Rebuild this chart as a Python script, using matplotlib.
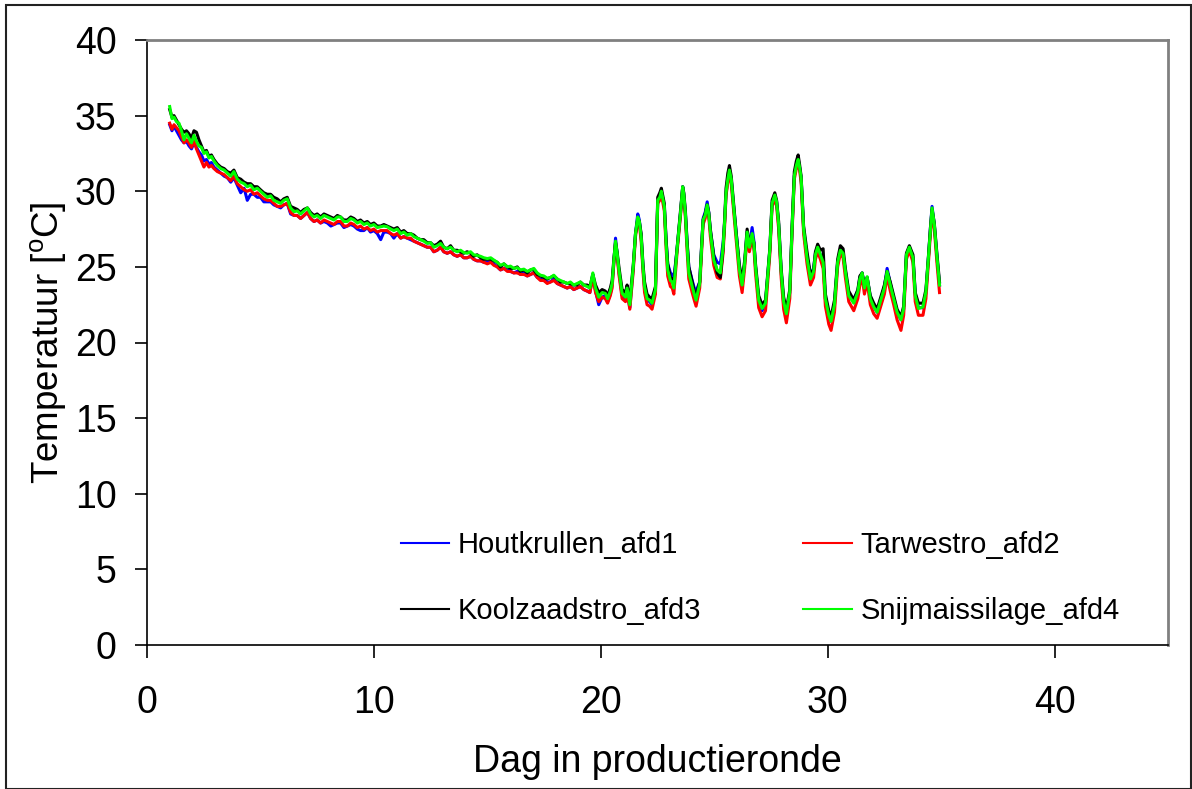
import matplotlib
matplotlib.use("Agg")
import matplotlib.pyplot as plt
from matplotlib.patches import Rectangle

plt.rcParams['font.family'] = ['Liberation Sans', 'DejaVu Sans']

# ---- data ----
days = [
    1.00, 1.10, 1.19, 1.30, 1.41, 1.52, 1.63, 1.74, 1.85, 1.96,
    2.07, 2.18, 2.29, 2.40, 2.51, 2.62, 2.73, 2.84, 2.95, 3.10,
    3.25, 3.40, 3.54, 3.69, 3.83, 3.98, 4.13, 4.28, 4.42, 4.57,
    4.71, 4.86, 5.00, 5.15, 5.30, 5.45, 5.59, 5.74, 5.89, 6.03,
    6.18, 6.33, 6.48, 6.62, 6.77, 6.92, 7.07, 7.21, 7.36, 7.50,
    7.65, 7.80, 7.95, 8.10, 8.24, 8.39, 8.53, 8.68, 8.83, 8.98,
    9.12, 9.27, 9.41, 9.56, 9.71, 9.85, 10.00, 10.15, 10.30, 10.44,
    10.59, 10.74, 10.88, 11.03, 11.18, 11.32, 11.47, 11.62, 11.76, 11.91,
    12.06, 12.20, 12.35, 12.50, 12.64, 12.79, 12.94, 13.08, 13.23, 13.38,
    13.52, 13.67, 13.82, 13.96, 14.11, 14.26, 14.40, 14.55, 14.70, 14.85,
    15.00, 15.15, 15.29, 15.44, 15.58, 15.73, 15.88, 16.02, 16.17, 16.32,
    16.46, 16.61, 16.76, 16.90, 17.05, 17.20, 17.34, 17.49, 17.64, 17.78,
    17.93, 18.08, 18.22, 18.37, 18.52, 18.66, 18.81, 18.95, 19.10, 19.25,
    19.40, 19.52, 19.65, 19.77, 19.91, 20.06, 20.20, 20.30, 20.42, 20.50,
    20.58, 20.65, 20.72, 20.80, 20.94, 21.09, 21.16, 21.28, 21.43, 21.53,
    21.63, 21.70, 21.78, 21.86, 21.93, 22.04, 22.15, 22.26, 22.41, 22.51,
    22.60, 22.67, 22.80, 22.88, 22.95, 23.07, 23.15, 23.22, 23.30, 23.37,
    23.51, 23.61, 23.66, 23.73, 23.80, 23.88, 24.03, 24.12, 24.20, 24.36,
    24.45, 24.51, 24.60, 24.69, 24.76, 24.83, 24.98, 25.13, 25.27, 25.39,
    25.46, 25.52, 25.60, 25.67, 25.75, 25.83, 25.96, 26.11, 26.23, 26.34,
    26.45, 26.55, 26.67, 26.75, 26.82, 26.96, 27.11, 27.26, 27.45, 27.55,
    27.67, 27.75, 27.84, 27.95, 28.06, 28.18, 28.33, 28.43, 28.53, 28.62,
    28.70, 28.76, 28.83, 28.94, 29.09, 29.24, 29.38, 29.46, 29.56, 29.68,
    29.80, 29.90, 30.05, 30.15, 30.30, 30.44, 30.56, 30.68, 30.78, 30.93,
    31.15, 31.33, 31.42, 31.52, 31.62, 31.74, 31.88, 32.03, 32.18, 32.32,
    32.50, 32.62, 32.76, 32.91, 33.06, 33.23, 33.35, 33.47, 33.60, 33.76,
    33.86, 34.00, 34.20, 34.33, 34.45, 34.53, 34.60, 34.70, 34.82, 34.93,
]

houtkrullen_afd1 = [
    34.4, 34.0, 34.3, 34.0, 33.7, 33.4, 33.2, 33.3, 33.0, 32.8,
    33.2, 32.9, 32.6, 32.4, 32.0, 32.1, 31.8, 31.9, 31.6, 31.4,
    31.2, 31.0, 30.9, 30.6, 30.9, 30.4, 29.9, 30.2, 29.4, 29.8,
    29.8, 29.6, 29.6, 29.3, 29.3, 29.3, 29.1, 29.0, 28.9, 29.1,
    29.2, 28.5, 28.4, 28.4, 28.2, 28.4, 28.6, 28.2, 28.0, 28.1,
    27.9, 28.0, 27.9, 27.7, 27.8, 27.9, 27.9, 27.6, 27.7, 27.8,
    27.7, 27.5, 27.4, 27.4, 27.6, 27.3, 27.4, 27.2, 26.8, 27.3,
    27.3, 27.2, 26.9, 27.2, 26.9, 27.0, 26.9, 26.8, 26.7, 26.6,
    26.5, 26.4, 26.3, 26.3, 26.0, 26.1, 26.3, 26.0, 25.9, 26.0,
    25.8, 25.7, 25.8, 25.6, 25.6, 25.7, 25.5, 25.4, 25.4, 25.3,
    25.3, 25.3, 25.2, 25.0, 24.8, 24.9, 24.8, 24.7, 24.6, 24.7,
    24.5, 24.6, 24.4, 24.5, 24.6, 24.3, 24.2, 24.1, 24.0, 24.0,
    24.2, 23.9, 23.8, 23.7, 23.6, 23.7, 23.5, 23.6, 23.7, 23.5,
    23.4, 23.3, 24.5, 23.4, 22.5, 23.0, 23.1, 22.7, 23.2, 23.8,
    25.4, 26.9, 25.9, 24.7, 23.1, 22.9, 23.4, 22.3, 24.9, 27.2,
    28.5, 28.1, 27.0, 25.0, 23.6, 22.8, 22.7, 22.5, 23.4, 29.3,
    29.6, 30.0, 29.0, 26.7, 25.2, 24.6, 24.5, 24.2, 25.3, 26.3,
    28.5, 30.3, 29.8, 28.5, 26.7, 25.0, 24.1, 23.6, 23.4, 24.0,
    26.6, 28.2, 28.6, 29.3, 28.6, 27.4, 25.8, 25.3, 25.2, 26.6,
    28.0, 29.8, 30.8, 31.3, 30.8, 29.4, 27.4, 25.0, 23.8, 25.2,
    27.3, 26.3, 27.6, 26.7, 25.0, 22.8, 22.1, 22.6, 26.1, 29.2,
    29.7, 29.3, 27.8, 24.7, 22.6, 21.8, 23.3, 27.4, 31.0, 31.7,
    32.1, 31.6, 30.9, 27.5, 25.6, 24.5, 24.9, 25.9, 26.3, 25.8,
    25.3, 22.9, 21.8, 21.4, 22.5, 25.3, 26.1, 25.8, 24.7, 23.1,
    22.9, 23.4, 24.3, 24.6, 23.7, 24.3, 23.0, 22.4, 22.0, 22.7,
    23.7, 24.9, 23.9, 22.9, 22.0, 21.5, 22.2, 25.8, 26.3, 25.6,
    23.2, 22.3, 22.3, 23.3, 25.8, 27.6, 29.0, 27.8, 25.6, 23.8,
]

tarwestro_afd2 = [
    34.5, 34.1, 34.4, 34.2, 34.0, 33.6, 33.2, 33.4, 33.2, 32.9,
    33.3, 32.8, 32.4, 32.0, 31.6, 31.9, 31.6, 31.7, 31.5, 31.3,
    31.2, 31.1, 30.9, 30.7, 31.0, 30.5, 30.3, 30.1, 30.0, 30.1,
    29.8, 29.9, 29.7, 29.5, 29.4, 29.4, 29.2, 29.0, 29.0, 29.1,
    29.2, 28.6, 28.4, 28.4, 28.2, 28.4, 28.6, 28.2, 28.0, 28.1,
    27.9, 28.1, 28.0, 27.9, 27.8, 28.0, 28.0, 27.7, 27.7, 27.9,
    27.8, 27.6, 27.7, 27.5, 27.6, 27.4, 27.5, 27.3, 27.4, 27.4,
    27.4, 27.2, 27.1, 27.2, 26.9, 27.0, 26.9, 26.9, 26.7, 26.6,
    26.5, 26.4, 26.3, 26.3, 26.0, 26.1, 26.3, 26.0, 25.9, 26.0,
    25.8, 25.7, 25.8, 25.6, 25.6, 25.7, 25.5, 25.4, 25.4, 25.3,
    25.2, 25.3, 25.1, 25.0, 24.8, 24.9, 24.7, 24.7, 24.6, 24.6,
    24.5, 24.5, 24.4, 24.5, 24.6, 24.3, 24.1, 24.1, 23.9, 24.0,
    24.1, 23.9, 23.8, 23.7, 23.6, 23.7, 23.5, 23.6, 23.7, 23.5,
    23.4, 23.3, 24.3, 23.3, 22.7, 23.0, 22.9, 22.6, 23.1, 23.6,
    25.3, 26.6, 25.7, 24.5, 22.9, 22.7, 23.3, 22.2, 24.7, 27.0,
    28.1, 27.8, 26.7, 24.7, 23.3, 22.5, 22.4, 22.2, 23.2, 29.2,
    29.4, 29.8, 28.7, 26.2, 24.4, 23.7, 23.6, 23.2, 24.7, 26.1,
    28.3, 30.1, 29.6, 28.2, 26.2, 24.2, 23.3, 22.8, 22.4, 23.6,
    26.2, 27.8, 28.2, 28.9, 28.3, 27.0, 25.1, 24.3, 24.2, 25.9,
    27.7, 29.7, 30.6, 31.2, 30.5, 29.1, 26.9, 24.4, 23.3, 24.9,
    27.0, 26.0, 26.9, 26.2, 24.6, 22.3, 21.7, 22.1, 25.8, 29.0,
    29.5, 29.0, 27.5, 24.3, 22.2, 21.3, 22.9, 27.2, 30.8, 31.5,
    31.9, 31.4, 30.6, 27.2, 25.2, 23.8, 24.3, 25.5, 26.0, 25.5,
    24.9, 22.4, 21.2, 20.8, 22.0, 25.0, 25.9, 25.6, 24.3, 22.7,
    22.1, 22.9, 23.8, 24.3, 23.2, 24.0, 22.5, 21.9, 21.6, 22.3,
    23.2, 24.4, 23.4, 22.5, 21.5, 20.8, 21.8, 25.5, 26.1, 25.3,
    22.7, 21.8, 21.8, 22.9, 25.5, 27.2, 28.6, 27.5, 25.2, 23.3,
]

koolzaadstro_afd3 = [
    35.4, 34.9, 35.0, 34.7, 34.4, 34.1, 33.9, 34.0, 33.8, 33.5,
    34.0, 33.9, 33.4, 33.0, 32.6, 32.7, 32.3, 32.4, 32.1, 31.8,
    31.6, 31.5, 31.3, 31.2, 31.4, 30.9, 30.8, 30.6, 30.5, 30.5,
    30.3, 30.3, 30.1, 29.9, 29.8, 29.8, 29.6, 29.5, 29.3, 29.5,
    29.6, 29.0, 28.9, 28.8, 28.6, 28.8, 28.9, 28.6, 28.4, 28.5,
    28.3, 28.5, 28.4, 28.3, 28.2, 28.4, 28.3, 28.1, 28.1, 28.3,
    28.2, 28.0, 28.1, 27.9, 28.0, 27.8, 27.9, 27.7, 27.7, 27.8,
    27.7, 27.6, 27.5, 27.6, 27.3, 27.4, 27.2, 27.2, 27.1, 26.9,
    26.8, 26.8, 26.6, 26.6, 26.4, 26.5, 26.7, 26.3, 26.2, 26.4,
    26.1, 26.1, 26.0, 25.9, 26.0, 25.9, 25.7, 25.8, 25.6, 25.5,
    25.5, 25.5, 25.4, 25.3, 25.0, 25.2, 25.0, 24.9, 24.9, 25.0,
    24.7, 24.8, 24.6, 24.8, 24.8, 24.5, 24.4, 24.3, 24.2, 24.3,
    24.4, 24.2, 24.0, 24.0, 23.9, 23.9, 23.8, 23.8, 24.0, 23.8,
    23.8, 23.7, 24.5, 23.8, 23.3, 23.5, 23.4, 23.1, 23.6, 24.1,
    25.6, 26.6, 26.0, 25.0, 23.5, 23.3, 23.8, 22.8, 25.1, 27.2,
    28.2, 28.0, 27.2, 25.2, 24.0, 23.2, 23.0, 22.9, 23.7, 29.6,
    29.9, 30.2, 29.2, 26.8, 25.2, 24.3, 24.2, 23.9, 25.2, 26.4,
    28.6, 30.3, 29.9, 28.7, 26.8, 25.0, 24.0, 23.4, 23.1, 24.0,
    26.6, 28.1, 28.5, 29.1, 28.6, 27.5, 25.7, 24.6, 24.3, 26.2,
    28.2, 30.2, 31.2, 31.7, 31.0, 29.6, 27.4, 25.1, 24.1, 25.4,
    27.5, 26.5, 27.0, 26.6, 25.2, 23.1, 22.5, 22.8, 26.2, 29.4,
    29.9, 29.4, 28.0, 24.9, 23.0, 22.2, 23.5, 27.7, 31.3, 32.0,
    32.4, 31.8, 31.0, 27.7, 26.0, 24.5, 24.8, 26.0, 26.5, 26.1,
    26.2, 23.2, 22.1, 21.7, 22.8, 25.5, 26.4, 26.2, 24.9, 23.4,
    22.8, 23.5, 24.4, 24.6, 23.8, 24.3, 23.1, 22.6, 22.2, 22.9,
    23.8, 24.7, 24.0, 23.1, 22.2, 21.7, 22.4, 25.9, 26.4, 25.8,
    23.3, 22.6, 22.6, 23.5, 25.9, 27.6, 28.8, 27.9, 25.8, 24.0,
]

snijmaissilage_afd4 = [
    35.6, 34.8, 34.9, 34.6, 34.5, 34.0, 33.4, 33.8, 33.5, 33.2,
    33.7, 33.3, 33.0, 32.9, 32.5, 32.6, 32.2, 32.3, 32.0, 31.7,
    31.5, 31.4, 31.2, 31.0, 31.3, 30.8, 30.6, 30.5, 30.3, 30.4,
    30.1, 30.2, 30.0, 29.8, 29.6, 29.7, 29.4, 29.3, 29.2, 29.4,
    29.5, 28.9, 28.65, 28.7, 28.5, 28.7, 28.9, 28.5, 28.3, 28.4,
    28.2, 28.4, 28.3, 28.2, 28.1, 28.3, 28.3, 28.0, 28.0, 28.2,
    28.1, 27.9, 28.0, 27.8, 27.9, 27.7, 27.8, 27.6, 27.65, 27.7,
    27.65, 27.5, 27.4, 27.5, 27.2, 27.3, 27.1, 27.2, 27.0, 26.9,
    26.8, 26.7, 26.55, 26.6, 26.3, 26.4, 26.55, 26.3, 26.2, 26.3,
    26.1, 26.0, 26.1, 25.95, 25.9, 26.0, 25.8, 25.75, 25.7, 25.6,
    25.55, 25.6, 25.45, 25.3, 25.1, 25.2, 25.0, 25.05, 24.9, 24.95,
    24.8, 24.85, 24.7, 24.8, 24.9, 24.6, 24.45, 24.4, 24.25, 24.3,
    24.45, 24.2, 24.1, 24.0, 23.9, 24.0, 23.8, 23.9, 24.0, 23.8,
    23.7, 23.6, 24.6, 23.6, 23.0, 23.3, 23.25, 22.9, 23.4, 23.9,
    25.5, 26.7, 25.9, 24.8, 23.25, 23.0, 23.6, 22.5, 25.0, 27.2,
    28.3, 28.0, 27.0, 25.0, 23.7, 22.9, 22.8, 22.6, 23.5, 29.4,
    29.6, 30.0, 29.0, 26.5, 24.8, 24.1, 24.0, 23.6, 25.0, 26.3,
    28.5, 30.3, 29.8, 28.5, 26.5, 24.6, 23.7, 23.2, 22.8, 23.9,
    26.5, 28.1, 28.4, 29.1, 28.5, 27.3, 25.45, 24.8, 24.6, 26.3,
    28.0, 29.9, 30.8, 31.4, 30.8, 29.4, 27.2, 24.8, 23.8, 25.2,
    27.3, 26.3, 27.2, 26.5, 25.0, 22.8, 22.25, 22.6, 26.1, 29.2,
    29.75, 29.3, 27.8, 24.7, 22.7, 21.9, 23.35, 27.5, 31.0, 31.7,
    32.1, 31.6, 30.9, 27.5, 25.6, 24.2, 24.7, 25.8, 26.3, 25.8,
    25.3, 22.9, 21.8, 21.4, 22.5, 25.3, 26.1, 25.9, 24.7, 23.1,
    22.6, 23.35, 24.2, 24.6, 23.6, 24.35, 22.9, 22.35, 22.0, 22.7,
    23.6, 24.7, 23.8, 22.9, 22.0, 21.5, 22.25, 25.8, 26.3, 25.6,
    23.1, 22.25, 22.35, 23.35, 25.8, 27.5, 28.9, 27.8, 25.6, 23.8,
]

series_labels = ["Houtkrullen_afd1", "Tarwestro_afd2",
                 "Koolzaadstro_afd3", "Snijmaissilage_afd4"]
series_colors = ["#0000FF", "#FF0000", "#000000", "#00FF00"]
x_ticks = [0, 10, 20, 30, 40]
y_ticks = [0, 5, 10, 15, 20, 25, 30, 35, 40]

# ---- figure ----
W, H = 1192, 789
fig = plt.figure(figsize=(W / 100, H / 100), dpi=100)
ax = fig.add_axes([147 / W, 1 - 645 / H, (1168 - 147) / W, (645 - 40) / H])

all_series = [houtkrullen_afd1, tarwestro_afd2, koolzaadstro_afd3, snijmaissilage_afd4]
lines = []
for vals, lab, col in zip(all_series, series_labels, series_colors):
    ln, = ax.plot(days, vals, color=col, lw=2.2, label=lab, solid_joinstyle='round')
    lines.append(ln)

ax.set_xlim(0, 45)
ax.set_ylim(0, 40)
ax.set_xticks(x_ticks)
ax.set_yticks(y_ticks)
ax.tick_params(axis='both', direction='out', length=9, width=1.2, labelsize=27,
               color='black')
ax.tick_params(axis='y', pad=13)
ax.tick_params(axis='x', pad=20)

for side in ['top', 'right']:
    ax.spines[side].set_color('#808080')
    ax.spines[side].set_linewidth(2)
for side in ['left', 'bottom']:
    ax.spines[side].set_color('black')
    ax.spines[side].set_linewidth(1.2)

ax.set_xlabel("Dag in productieronde", fontsize=27, labelpad=16)
ax.set_ylabel("Temperatuur [$\\mathregular{^o}$C]", fontsize=26.5, labelpad=5)

# legend filled row by row: (H, T) on first row, (K, S) on second
leg_order = [0, 2, 1, 3]
leg = ax.legend(handles=[lines[i] for i in leg_order], ncol=2, frameon=False, fontsize=21,
                loc='upper left',
                bbox_to_anchor=((401 - 147) / (1168 - 147), (645 - 531) / (645 - 40)),
                handlelength=1.65, handletextpad=0.3, columnspacing=3.5,
                labelspacing=1.3, borderaxespad=0, borderpad=0)
for h in leg.get_lines():
    h.set_linewidth(1.5)

# figure border
fig.patches.append(Rectangle((6 / W, 0), (W - 6) / W - 0.0005, 1 - 5 / H,
                             transform=fig.transFigure, fill=False,
                             edgecolor='#222222', lw=1.5))

fig.savefig("out.png", dpi=100)
